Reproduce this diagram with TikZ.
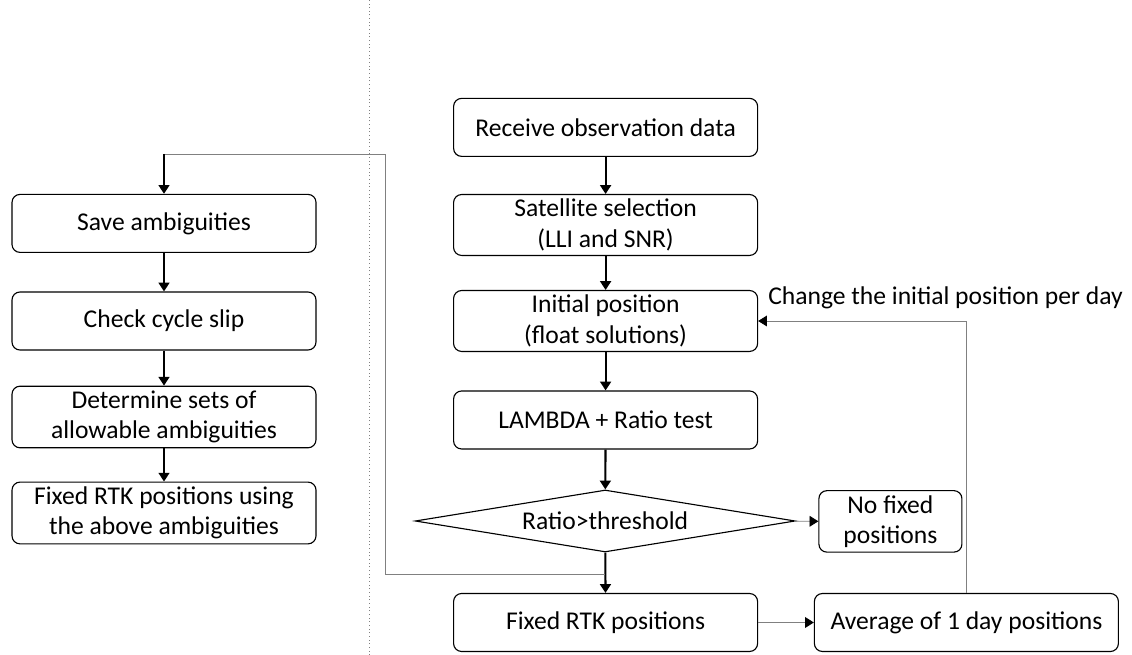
\documentclass[tikz,border=0pt]{standalone}
\usepackage{fontspec}
\setmainfont{Carlito}
\usetikzlibrary{shapes.geometric,arrows.meta}
\begin{document}
\begin{tikzpicture}[
        bsty/.style={rectangle,draw,rounded corners=0.2cm,line width=0.8pt,
            minimum width=7.6cm,minimum height=1.45cm,align=center,
            font=\fontsize{18.2}{21.5}\selectfont},
        dsty/.style={diamond,draw,line width=0.8pt,aspect=6,inner sep=0pt,
            minimum width=9.5cm,minimum height=1.55cm,
            font=\fontsize{18.2}{21.5}\selectfont},
        asty/.style={line width=1.5pt,-{Triangle[length=0.22cm,width=0.27cm]}},
        gsty/.style={draw=gray,line width=0.6pt,-{Triangle[length=0.22cm,width=0.27cm,black]}},
        lsty/.style={draw=gray,line width=0.6pt},
    ]
    \useasboundingbox (0,0) rectangle (28.3,16.375);
    \draw[gray,dotted,line width=0.6pt] (9.225,0) -- (9.225,16.375);
    % left column
    \node (save) at (4.1,10.79) [bsty] {Save ambiguities};
    \node (check) at (4.1,8.35) [bsty] {Check cycle slip};
    \node (sets) at (4.1,5.95) [bsty] {Determine sets of\\allowable ambiguities};
    \node (using) at (4.1,3.55) [bsty] {Fixed RTK positions using\\the above ambiguities};
    % right column
    \node (recv) at (15.14,13.19) [bsty] {Receive observation data};
    \node (sat) at (15.14,10.75) [bsty] {Satellite selection\\(LLI and SNR)};
    \node (init) at (15.14,8.35) [bsty] {Initial position\\(float solutions)};
    \node (lam) at (15.14,5.875) [bsty] {LAMBDA + Ratio test};
    \node (ratio) at (15.13,3.35) [dsty] {Ratio>threshold};
    \node (fixed) at (15.14,0.8125) [bsty] {Fixed RTK positions};
    \node (nofix) at (22.26,3.34) [bsty,minimum width=3.575cm] {No fixed\\positions};
    \node (avg) at (24.16,0.8125) [bsty] {Average of 1 day positions};
    \node (chg) at (19.2,8.925) [anchor=west,inner sep=0pt,
        font=\fontsize{18.2}{21.5}\selectfont] {Change the initial position per day};
    \coordinate (jn) at (15.13,2.025);
    \coordinate (top) at (4.1,12.525);
    \draw[asty] (save) -- (check);
    \draw[asty] (check) -- (sets);
    \draw[asty] (sets) -- (using);
    \draw[asty] (recv) -- (sat);
    \draw[asty] (sat) -- (init);
    \draw[asty] (init) -- (lam);
    \draw[asty] (lam) -- (ratio);
    \draw[asty] (ratio) -- (fixed);
    \draw[gsty] (ratio) -- (nofix);
    \draw[gsty] (fixed) -- (avg);
    \draw[gsty] (avg.north) |- (init.east);
    \draw[lsty] (jn) -| (9.625,12.525) -- (top);
    \draw[asty] (top) -- (save);
\end{tikzpicture}
\end{document}
